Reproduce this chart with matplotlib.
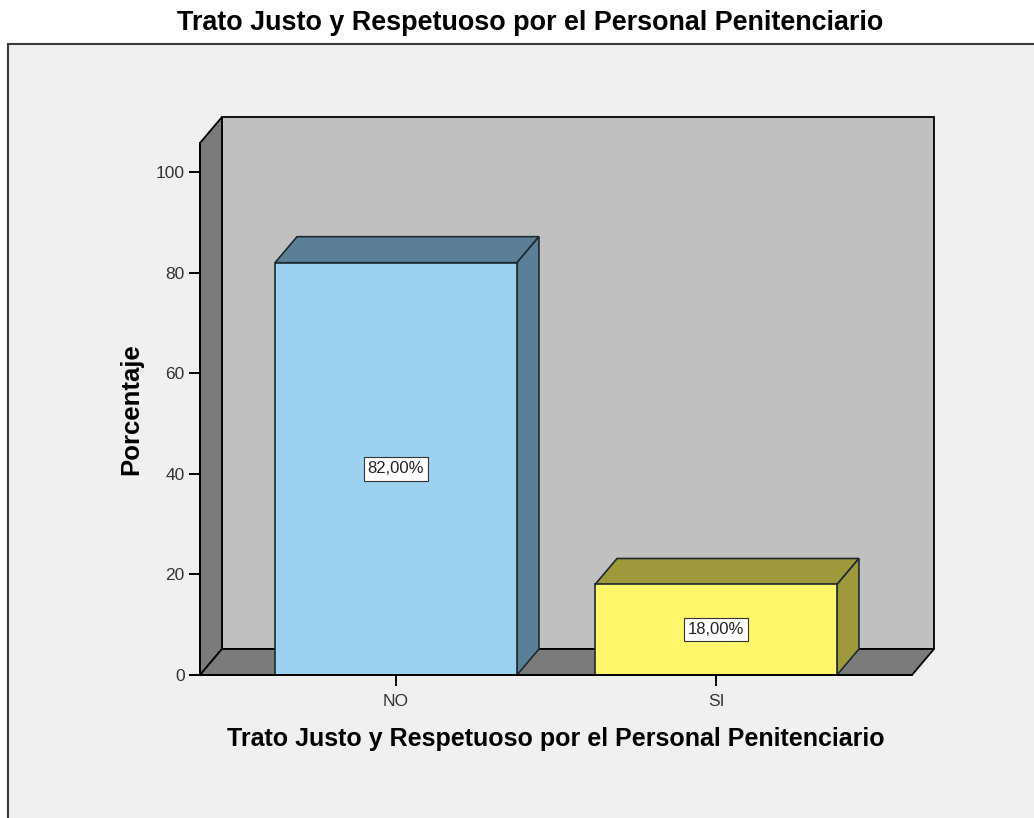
import matplotlib
matplotlib.use("Agg")
import matplotlib.pyplot as plt
from matplotlib.patches import Polygon, Rectangle

plt.rcParams.update({"font.family": ["Liberation Sans", "DejaVu Sans"]})

categories = ["NO", "SI"]
percentages = [82.0, 18.0]
y_ticks = [0, 20, 40, 60, 80, 100]
title = "Trato Justo y Respetuoso por el Personal Penitenciario"

FRONT = ["#9DD1F0", "#FFF66C"]
SHADE = ["#5B7F96", "#9E9A3C"]
WALL_BACK, WALL_SIDE, FRAME_BG = "#C0C0C0", "#7B7B7B", "#F0F0F0"

W, H = 1034, 818
fig = plt.figure(figsize=(W / 100, H / 100), dpi=100)
fig.patch.set_facecolor("white")

# outer chart frame (runs off the right and bottom edges)
fig.patches.append(Rectangle((8 / W, -0.05), 1.1, 1 - 44 / H + 0.05, transform=fig.transFigure,
                             facecolor=FRAME_BG, edgecolor="#3A3A3A", lw=1.5, zorder=-10))
fig.text(530 / W, 1 - 23 / H, title, ha="center", va="center",
         fontsize=19.4, fontweight="bold")

ax = fig.add_axes([200 / W, (H - 675) / H, 712 / W, 532 / H])
ax.set_facecolor("none")
x0, x1, ytop = -0.6125, 1.6125, 105.8
ax.set_xlim(x0, x1)
ax.set_ylim(0, ytop)
ox, oy = 22 / 320, 26 / (532 / ytop)  # depth offset in data units
bw = 0.756

# walls and floor
ax.add_patch(Polygon([(x0 + ox, oy), (x1 + ox, oy), (x1 + ox, ytop + oy), (x0 + ox, ytop + oy)],
                     facecolor=WALL_BACK, edgecolor="black", lw=1.3, clip_on=False, zorder=1))
ax.add_patch(Polygon([(x0, 0), (x0 + ox, oy), (x0 + ox, ytop + oy), (x0, ytop)],
                     facecolor=WALL_SIDE, edgecolor="black", lw=1.3, clip_on=False, zorder=1))
ax.add_patch(Polygon([(x0, 0), (x1, 0), (x1 + ox, oy), (x0 + ox, oy)],
                     facecolor=WALL_SIDE, edgecolor="black", lw=1.3, clip_on=False, zorder=1))

for i, (cat, v) in enumerate(zip(categories, percentages)):
    l, r = i - bw / 2, i + bw / 2
    ax.add_patch(Polygon([(l, v), (r, v), (r + ox, v + oy), (l + ox, v + oy)],
                         facecolor=SHADE[i], edgecolor="#1E2A30", lw=1.2, zorder=3, clip_on=False))
    ax.add_patch(Polygon([(r, 0), (r + ox, oy), (r + ox, v + oy), (r, v)],
                         facecolor=SHADE[i], edgecolor="#1E2A30", lw=1.2, zorder=3, clip_on=False))
    ax.add_patch(Rectangle((l, 0), bw, v, facecolor=FRONT[i], edgecolor="#1E2A30",
                           lw=1.2, zorder=4, clip_on=False))
    ax.text(i, v / 2, f"{v:.2f}%".replace(".", ","), ha="center", va="center",
            fontsize=12, color="#222222", zorder=5,
            bbox=dict(boxstyle="square,pad=0.25", facecolor="white", edgecolor="#333333", lw=0.8))

ax.set_xticks(range(len(categories)))
ax.set_xticklabels(categories)
ax.set_yticks(y_ticks)
for s in ["top", "right"]:
    ax.spines[s].set_visible(False)
for s in ["left", "bottom"]:
    ax.spines[s].set_linewidth(1.4)
    ax.spines[s].set_zorder(6)
ax.tick_params(axis="both", length=8, width=1.4, direction="out", labelsize=12.5,
               labelcolor="#333333", pad=3)
ax.tick_params(axis="x", pad=6)

ax.set_xlabel(title, fontsize=18, fontweight="bold")
ax.set_ylabel("Porcentaje", fontsize=18.5, fontweight="bold")
ax.xaxis.set_label_coords(0.5, (675 - 727) / 532)
ax.yaxis.set_label_coords((143 - 200) / 712, 0.5)

fig.savefig("out.png", dpi=100)
